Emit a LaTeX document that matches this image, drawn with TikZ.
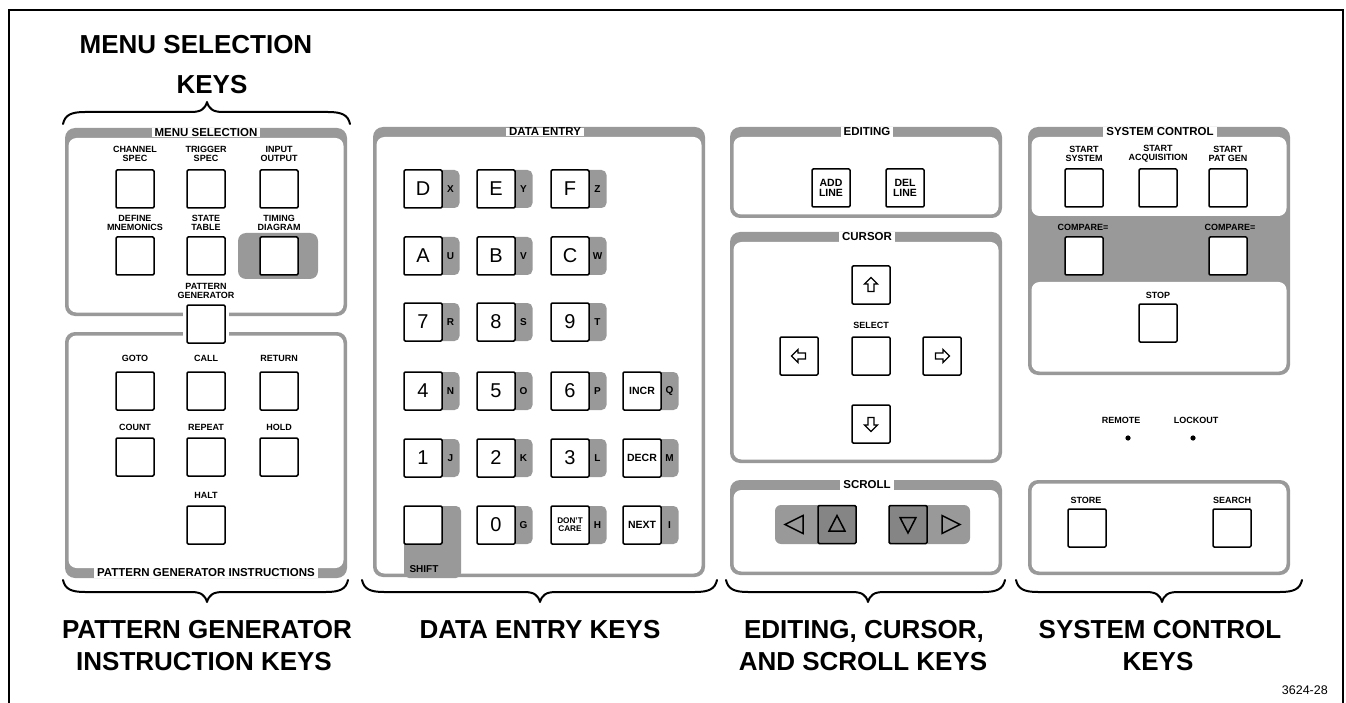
\documentclass[tikz,border=0pt]{standalone}
\usepackage{fontspec}
\setmainfont{Liberation Sans}
\definecolor{pgray}{gray}{0.6}
\definecolor{dgray}{gray}{0.52}
\newcommand{\paneltop}[4]{%
  \fill[pgray, rounded corners=10pt] (#1,#2) rectangle (#3,#4);
  \fill[white, rounded corners=8pt] ({#1+3.5},{#2+10}) rectangle ({#3-3.5},{#4-3.5});}
\newcommand{\panelbot}[4]{%
  \fill[pgray, rounded corners=10pt] (#1,#2) rectangle (#3,#4);
  \fill[white, rounded corners=8pt] ({#1+3.5},{#2+3.5}) rectangle ({#3-3.5},{#4-10});}
\newcommand{\panelplain}[4]{%
  \fill[pgray, rounded corners=10pt] (#1,#2) rectangle (#3,#4);
  \fill[white, rounded corners=8pt] ({#1+3.5},{#2+3.5}) rectangle ({#3-3.5},{#4-3.5});}
\newcommand{\bracebot}[4]{%
  \draw[brace] (#1,#4) .. controls ({#1+2},{#4+9}) and ({#1+8},{#4+12}) .. ({#1+22},{#4+12})
    -- ({#3-16},{#4+12}) .. controls ({#3-6},{#4+12}) and ({#3-2},{#4+15}) .. (#3,{#4+22})
    .. controls ({#3+2},{#4+15}) and ({#3+6},{#4+12}) .. ({#3+16},{#4+12})
    -- ({#2-22},{#4+12}) .. controls ({#2-8},{#4+12}) and ({#2-2},{#4+9}) .. (#2,#4);}
\newcommand{\bracetop}[4]{%
  \draw[brace] (#1,#4) .. controls ({#1+2},{#4-9}) and ({#1+8},{#4-12}) .. ({#1+22},{#4-12})
    -- ({#3-16},{#4-12}) .. controls ({#3-6},{#4-12}) and ({#3-2},{#4-15}) .. (#3,{#4-22})
    .. controls ({#3+2},{#4-15}) and ({#3+6},{#4-12}) .. ({#3+16},{#4-12})
    -- ({#2-22},{#4-12}) .. controls ({#2-8},{#4-12}) and ({#2-2},{#4-9}) .. (#2,#4);}
% data key: name, cx, cy, text, tab letter, style
\newcommand{\dkey}[6]{%
  \fill[pgray, rounded corners=5pt] ({#2-10},{#3-19}) rectangle ({#2+36.5},{#3+19});
  \node[key, #6] (#1) at (#2,#3) {#4};
  \node[tabl] (#1t) at ({#2+27.5},#3) {#5};}
\begin{document}
\begin{tikzpicture}[x=1pt,y=-1pt,
  key/.style={draw, line width=1.5pt, fill=white, minimum width=38pt, minimum height=38pt,
    rounded corners=1.2pt, inner sep=0pt, align=center},
  lbl/.style={font=\fontsize{9}{9.3}\selectfont\bfseries, align=center, inner sep=0pt},
  hdr/.style={font=\fontsize{11.5}{12}\selectfont\bfseries, fill=white, inner xsep=3pt, inner ysep=0.5pt},
  big/.style={font=\fontsize{26}{26}\selectfont\bfseries, anchor=base, inner sep=0pt},
  dk/.style={font=\fontsize{20}{20}\selectfont},
  dks/.style={font=\fontsize{10.5}{10.5}\selectfont\bfseries},
  dkt/.style={font=\fontsize{8.2}{8.2}\selectfont\bfseries},
  tabl/.style={font=\fontsize{10}{10}\selectfont\bfseries, inner sep=0pt},
  brace/.style={line width=2pt, line cap=round, line join=round},
  arr/.style={line width=1.3pt, line join=miter},
  tri/.style={line width=1.5pt, line join=miter},
]
\useasboundingbox (0,0) rectangle (1346,703);
% outer frame
\draw[line width=2.5pt] (9,705) -- (9,10) -- (1343,10) -- (1343,705);

% ---------- headings ----------
\node[big] (h1a) at (196,54) {MENU SELECTION};
\node[big] (h1b) at (212,94) {KEYS};
\bracetop{63}{350}{207}{124}

\bracebot{63}{348}{207}{580}
\node[big] (h2a) at (207,638) {PATTERN GENERATOR};
\node[big] (h2b) at (204,670) {INSTRUCTION KEYS};
\bracebot{362}{717}{540}{580}
\node[big] (h3a) at (540,638) {DATA ENTRY KEYS};
\bracebot{726}{1005}{868}{580}
\node[big] (h4a) at (864,638) {EDITING, CURSOR,};
\node[big] (h4b) at (863,670) {AND SCROLL KEYS};
\bracebot{1016}{1302}{1162}{580}
\node[big] (h5a) at (1160,638) {SYSTEM CONTROL};
\node[big] (h5b) at (1158,670) {KEYS};
\node[font=\fontsize{12.5}{13}\selectfont, anchor=east, inner sep=0pt] (fig) at (1328,690) {3624-28};

% ---------- menu selection ----------
\paneltop{65}{128}{347}{316}
\panelbot{65}{332}{347}{578}
\node[hdr] (msh) at (206,132.5) {MENU SELECTION};
\node[hdr] (pgh) at (206,573) {PATTERN GENERATOR INSTRUCTIONS};
\fill[pgray, rounded corners=8pt] (238,233) rectangle (318,279);
\node[key] (chan) at (135,189) {};
\node[key] (trig) at (206,189) {};
\node[key] (inout) at (279,189) {};
\node[key] (defm) at (135,256) {};
\node[key] (stab) at (206,256) {};
\node[key] (tdiag) at (279,256) {};
\fill[white] (183,309) rectangle (229,339);
\node[key] (patgen) at (206,324) {};
\node[lbl] (chanl) at (135,154) {CHANNEL\\SPEC};
\node[lbl] (trigl) at (206,154) {TRIGGER\\SPEC};
\node[lbl] (inoutl) at (279,154) {INPUT\\OUTPUT};
\node[lbl] (defml) at (135,223) {DEFINE\\MNEMONICS};
\node[lbl] (stabl) at (206,223) {STATE\\TABLE};
\node[lbl] (tdiagl) at (279,223) {TIMING\\DIAGRAM};
\node[lbl] (patgenl) at (206,291) {PATTERN\\GENERATOR};
% pattern generator
\node[key] (goto) at (135,391) {};
\node[key] (call) at (206,391) {};
\node[key] (ret) at (279,391) {};
\node[key] (count) at (135,457) {};
\node[key] (rep) at (206,457) {};
\node[key] (hold) at (279,457) {};
\node[key] (halt) at (206,525) {};
\node[lbl] (gotol) at (135,358) {GOTO};
\node[lbl] (calll) at (206,358) {CALL};
\node[lbl] (retl) at (279,358) {RETURN};
\node[lbl] (countl) at (135,427) {COUNT};
\node[lbl] (repl) at (206,427) {REPEAT};
\node[lbl] (holdl) at (279,427) {HOLD};
\node[lbl] (haltl) at (206,495) {HALT};

% ---------- data entry ----------
\paneltop{373}{127}{705}{577}
\node[hdr] (deh) at (545,132) {DATA ENTRY};
\dkey{kd}{423}{189}{D}{X}{dk}
\dkey{ke}{496}{189}{E}{Y}{dk}
\dkey{kf}{570}{189}{F}{Z}{dk}
\dkey{ka}{423}{256}{A}{U}{dk}
\dkey{kb}{496}{256}{B}{V}{dk}
\dkey{kc}{570}{256}{C}{W}{dk}
\dkey{k7}{423}{322}{7}{R}{dk}
\dkey{k8}{496}{322}{8}{S}{dk}
\dkey{k9}{570}{322}{9}{T}{dk}
\dkey{k4}{423}{391}{4}{N}{dk}
\dkey{k5}{496}{391}{5}{O}{dk}
\dkey{k6}{570}{391}{6}{P}{dk}
\dkey{kincr}{642}{391}{INCR}{Q}{dks}
\dkey{k1}{423}{458}{1}{J}{dk}
\dkey{k2}{496}{458}{2}{K}{dk}
\dkey{k3}{570}{458}{3}{L}{dk}
\dkey{kdecr}{642}{458}{DECR}{M}{dks}
\fill[pgray, rounded corners=5pt] (404,506) rectangle (461,578);
\node[key] (kshift) at (423,525) {};
\node[tabl] (kshiftl) at (424,569) {SHIFT};
\dkey{k0}{496}{525}{0}{G}{dk}
\dkey{kdc}{570}{525}{DON'T\\CARE}{H}{dkt}
\dkey{knext}{642}{525}{NEXT}{I}{dks}

% ---------- editing ----------
\paneltop{730}{127}{1002}{218}
\node[hdr] (edh) at (867,132) {EDITING};
\node[key, dks] (addl) at (831,188) {ADD\\LINE};
\node[key, dks] (dell) at (905,188) {DEL\\LINE};

% ---------- cursor ----------
\paneltop{730}{232}{1002}{463}
\node[hdr] (cuh) at (867,237) {CURSOR};
\node[key] (cup) at (871,285) {};
\node[key] (csel) at (871,356) {};
\node[key] (cleft) at (799,356) {};
\node[key] (cright) at (942,356) {};
\node[key] (cdown) at (871,424) {};
\node[lbl] (csell) at (871,325) {SELECT};
\draw[arr] (871,277.5) -- (877.5,284) -- (874,284) -- (874,291.5) -- (868,291.5) -- (868,284) -- (864.5,284) -- cycle;
\draw[arr] (871,431.5) -- (877.5,425) -- (874,425) -- (874,417.5) -- (868,417.5) -- (868,425) -- (864.5,425) -- cycle;
\draw[arr] (791.5,356) -- (798,349.5) -- (798,353) -- (805.5,353) -- (805.5,359) -- (798,359) -- (798,362.5) -- cycle;
\draw[arr] (949.5,356) -- (943,349.5) -- (943,353) -- (935.5,353) -- (935.5,359) -- (943,359) -- (943,362.5) -- cycle;

% ---------- scroll ----------
\paneltop{730}{480}{1002}{575}
\node[hdr] (sch) at (867,485) {SCROLL};
\fill[pgray, rounded corners=6pt] (775,505) rectangle (856,544);
\fill[pgray, rounded corners=6pt] (889,505) rectangle (970,544);
\node[key, fill=dgray] (sup) at (837,524.5) {};
\node[key, fill=dgray] (sdown) at (908,524.5) {};
\draw[tri] (837,515.5) -- (845,531) -- (829,531) -- cycle;
\draw[tri] (908,533) -- (916,517.5) -- (900,517.5) -- cycle;
\draw[tri] (785,524.5) -- (803,515.5) -- (803,533.5) -- cycle;
\draw[tri] (960,524.5) -- (942,515.5) -- (942,533.5) -- cycle;

% ---------- system control ----------
\fill[pgray, rounded corners=10pt] (1028,127) rectangle (1290,375);
\fill[white, rounded corners=8pt] (1031.5,137) rectangle (1286.5,216);
\fill[white, rounded corners=8pt] (1031.5,282) rectangle (1286.5,371.5);
\node[hdr] (sysh) at (1160,132) {SYSTEM CONTROL};
\node[key] (ssys) at (1084,188) {};
\node[key] (sacq) at (1158,188) {};
\node[key] (spat) at (1228,188) {};
\node[lbl] (ssysl) at (1084,154) {START\\SYSTEM};
\node[lbl] (sacql) at (1158,154) {START\\ACQUISITION};
\node[lbl] (spatl) at (1228,154) {START\\PAT GEN};
\node[key] (cmp1) at (1084,256) {};
\node[key] (cmp2) at (1228,256) {};
\node[lbl] (cmp1l) at (1083,227) {COMPARE=};
\node[lbl] (cmp2l) at (1230,227) {COMPARE=};
\node[key] (stop) at (1158,323) {};
\node[lbl] (stopl) at (1158,295) {STOP};
\node[lbl] (remote) at (1121,420) {REMOTE};
\node[lbl] (lockout) at (1196,420) {LOCKOUT};
\fill (1128,438) circle (2.6);
\fill (1193,438) circle (2.6);

% ---------- store / search ----------
\panelplain{1028}{480}{1290}{575}
\node[key] (store) at (1087,528) {};
\node[key] (search) at (1232,528) {};
\node[lbl] (storel) at (1086,500) {STORE};
\node[lbl] (searchl) at (1232,500) {SEARCH};
\end{tikzpicture}
\end{document}
